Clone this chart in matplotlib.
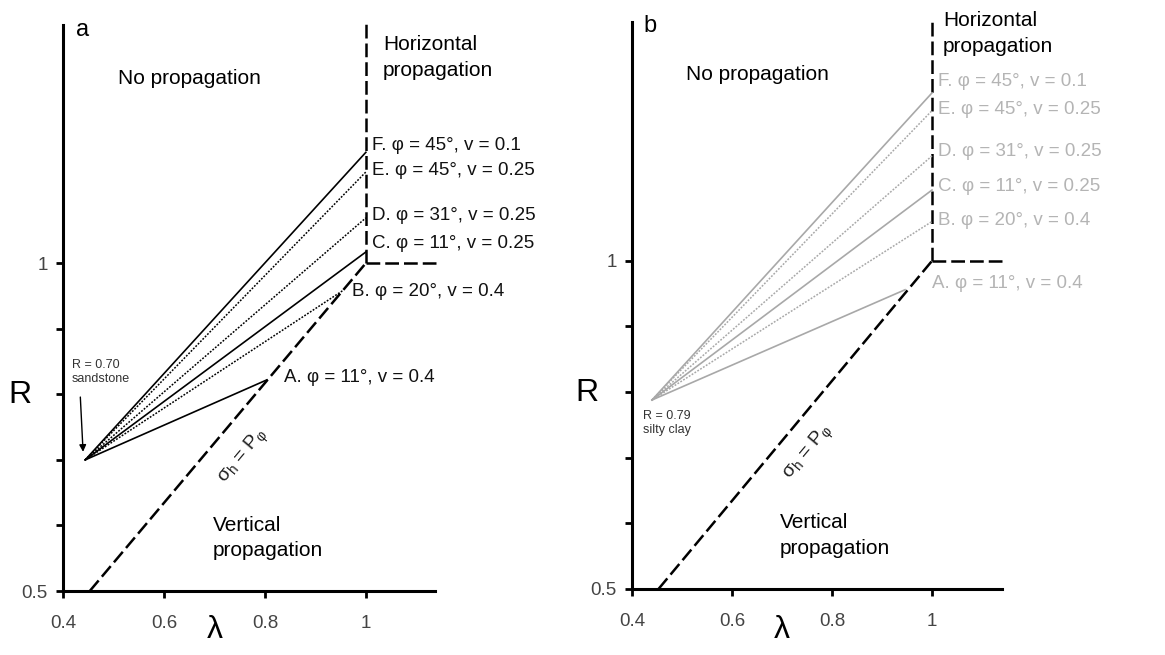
import matplotlib
matplotlib.use('Agg')
import matplotlib.pyplot as plt
import numpy as np

plt.rcParams['font.family'] = ['Liberation Sans', 'DejaVu Sans']
plt.rcParams['mathtext.fontset'] = 'custom'
plt.rcParams['mathtext.rm'] = 'Liberation Sans'
plt.rcParams['mathtext.it'] = 'Liberation Sans'

# boundary sigma_h = P_phi (lambda, R)
bound_lam = [0.453, 1.0]
bound_R = [0.5, 1.0]
vert_top = 1.37
horiz_end = 1.14

labels = ['A. φ = 11°, v = 0.4', 'B. φ = 20°, v = 0.4', 'C. φ = 11°, v = 0.25',
          'D. φ = 31°, v = 0.25', 'E. φ = 45°, v = 0.25', 'F. φ = 45°, v = 0.1']
styles = ['solid', 'dotted', 'solid', 'dotted', 'dotted', 'solid']

# panel a: sandstone, R = 0.70
a_start = (0.444, 0.70)
a_end_lam = [0.804, 0.954, 1.0, 1.0, 1.0, 1.0]
a_end_R = [0.822, 0.958, 1.017, 1.069, 1.139, 1.169]
a_lab_lam = [0.838, 0.972, 1.012, 1.012, 1.012, 1.012]
a_lab_R = [0.825, 0.956, 1.030, 1.073, 1.142, 1.180]

# panel b: silty clay, R = 0.79
b_start = (0.440, 0.788)
b_end_lam = [0.946, 1.0, 1.0, 1.0, 1.0, 1.0]
b_end_R = [0.956, 1.060, 1.108, 1.160, 1.229, 1.256]
b_lab_lam = [1.0, 1.012, 1.012, 1.012, 1.012, 1.012]
b_lab_R = [0.966, 1.062, 1.113, 1.166, 1.230, 1.274]

FS = 15     # region labels
LFS = 13.5  # curve labels
LS = 1.45   # line spacing of two-line labels


def setup(ax, xmax, ymax):
    ax.set_xlim(0.4, xmax)
    ax.set_ylim(0.5, ymax)
    for s in ['top', 'right']:
        ax.spines[s].set_visible(False)
    for s in ['left', 'bottom']:
        ax.spines[s].set_linewidth(2.2)
    ax.set_xticks([0.4, 0.6, 0.8, 1.0])
    ax.set_xticklabels(['0.4', '0.6', '0.8', '1'])
    ax.set_yticks([0.5, 0.6, 0.7, 0.8, 0.9, 1.0])
    ax.set_yticklabels(['0.5', '', '', '', '', '1'])
    ax.tick_params(axis='both', direction='out', length=5, width=2,
                   labelsize=13.5, labelcolor='#444444')
    ax.tick_params(axis='x', pad=12)
    ax.tick_params(axis='y', pad=6)


def boundary(ax):
    kw = dict(color='black', lw=1.8, dashes=(5.5, 2), solid_capstyle='butt')
    ax.plot(bound_lam, bound_R, clip_on=False, **kw)
    ax.plot([1.0, 1.0], [1.0, vert_top], clip_on=False, **kw)
    ax.plot([1.0, horiz_end], [1.0, 1.0], clip_on=False, **kw)


def fan(ax, start, end_lam, end_R, color):
    for el, er, st in zip(end_lam, end_R, styles):
        if st == 'dotted':
            ax.plot([start[0], el], [start[1], er], color=color, lw=1.1,
                    dashes=(1.2, 1.0))
        else:
            ax.plot([start[0], el], [start[1], er], color=color, lw=1.2)


fig = plt.figure(figsize=(11.65, 6.55), dpi=100)
ax1 = fig.add_axes([0.0541, 0.0977, 0.3193, 0.864])
ax2 = fig.add_axes([0.5425, 0.1008, 0.3176, 0.8656])
setup(ax1, 1.137, 1.363)
setup(ax2, 1.14, 1.364)

# panel a
boundary(ax1)
fan(ax1, a_start, a_end_lam, a_end_R, 'black')
for t, x, y in zip(labels, a_lab_lam, a_lab_R):
    ax1.text(x, y, t, fontsize=LFS, color='#111111', ha='left', va='center')
ax1.text(0.425, 1.355, 'a', fontsize=17, ha='left', va='center')
ax1.text(0.650, 1.282, 'No propagation', fontsize=FS, ha='center', va='center')
ax1.text(1.034, 1.314, 'Horizontal\npropagation', fontsize=FS, ha='left',
         va='center', linespacing=LS)
ax1.text(0.697, 0.581, 'Vertical\npropagation', fontsize=FS, ha='left',
         va='center', linespacing=LS)
ax1.text(0.418, 0.834, 'R = 0.70\nsandstone', fontsize=9, color='#333333',
         ha='left', va='center', linespacing=1.3)
ax1.annotate('', xy=(0.440, 0.708), xytext=(0.434, 0.800),
             arrowprops=dict(arrowstyle='-|>', color='black', lw=1,
                             mutation_scale=10))
ax1.text(0.758, 0.705, r'σ$_h$ = P$_φ$', fontsize=14, rotation=50,
         ha='center', va='center', color='#222222')

# panel b
grey = '#a8a8a8'
boundary(ax2)
fan(ax2, b_start, b_end_lam, b_end_R, grey)
for t, x, y in zip(labels, b_lab_lam, b_lab_R):
    ax2.text(x, y, t, fontsize=LFS, color='#b4b4b4', ha='left', va='center')
ax2.text(0.422, 1.358, 'b', fontsize=17, ha='left', va='center')
ax2.text(0.650, 1.284, 'No propagation', fontsize=FS, ha='center', va='center')
ax2.text(1.022, 1.346, 'Horizontal\npropagation', fontsize=FS, ha='left',
         va='center', linespacing=LS)
ax2.text(0.696, 0.582, 'Vertical\npropagation', fontsize=FS, ha='left',
         va='center', linespacing=LS)
ax2.text(0.422, 0.753, 'R = 0.79\nsilty clay', fontsize=9, color='#333333',
         ha='left', va='center', linespacing=1.3)
ax2.text(0.752, 0.708, r'σ$_h$ = P$_φ$', fontsize=14, rotation=50,
         ha='center', va='center', color='#222222')

# axis letters
fig.text(20 / 1165, 1 - 395 / 655, 'R', fontsize=23, ha='center', va='center')
fig.text(215 / 1165, 1 - 630 / 655, 'λ', fontsize=23, ha='center', va='center')
fig.text(587 / 1165, 1 - 393 / 655, 'R', fontsize=23, ha='center', va='center')
fig.text(782 / 1165, 1 - 630 / 655, 'λ', fontsize=23, ha='center', va='center')

fig.savefig('out.png', dpi=100)
